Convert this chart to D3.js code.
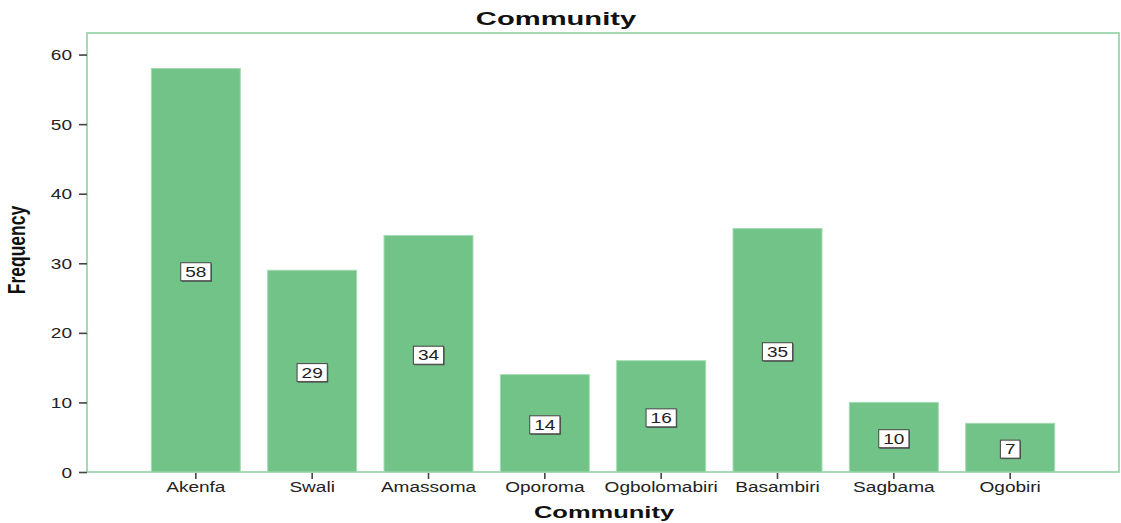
<!DOCTYPE html>
<html>
<head>
<meta charset="utf-8">
<script src="https://cdn.jsdelivr.net/npm/d3@7"></script>
<style>
  html, body { margin: 0; padding: 0; background: #fff; }
  svg text { font-family: Arial, "Liberation Sans", sans-serif; }
</style>
</head>
<body>
<svg id="chart" width="1121" height="523"></svg>
<script>
// Frequency of respondents by community
const communities = ["Akenfa", "Swali", "Amassoma", "Oporoma", "Ogbolomabiri", "Basambiri", "Sagbama", "Ogobiri"];
const frequencies = [58, 29, 34, 14, 16, 35, 10, 7];
const yTickValues = [0, 10, 20, 30, 40, 50, 60];

const W = 1121, H = 523;
const frame = { left: 87, right: 1119, top: 33, bottom: 472 };
const SX = 1.36; // horizontal stretch applied to all lettering

const svg = d3.select("#chart");

const x = d3.scaleBand()
  .domain(communities)
  .range([frame.left, frame.right])
  .paddingInner(0.235)
  .paddingOuter(0.553);

const y = d3.scaleLinear()
  .domain([0, 63.1])
  .range([frame.bottom, frame.top]);

// plot frame
svg.append("rect")
  .attr("x", frame.left).attr("y", frame.top)
  .attr("width", frame.right - frame.left)
  .attr("height", frame.bottom - frame.top)
  .attr("fill", "#fff")
  .attr("stroke", "#8fd3a2")
  .attr("stroke-width", 1.6);

// bars
svg.append("g").selectAll("rect")
  .data(frequencies)
  .join("rect")
  .attr("x", (d, i) => x(communities[i]))
  .attr("y", d => y(d))
  .attr("width", x.bandwidth())
  .attr("height", d => y(0) - y(d))
  .attr("fill", "#72c388")
  .attr("stroke", "#a6dbb4")
  .attr("stroke-width", 1);

// y axis
const yAxis = svg.append("g")
  .attr("transform", `translate(${frame.left},0)`)
  .call(d3.axisLeft(y).tickValues(yTickValues).tickSize(8).tickFormat(d3.format("d")));
yAxis.select(".domain").remove();
yAxis.selectAll(".tick line").attr("stroke", "#444").attr("stroke-width", 1.6);
yAxis.selectAll(".tick text")
  .attr("x", 0).attr("dy", "0.36em")
  .attr("transform", `translate(-15,0) scale(${SX},1)`)
  .attr("text-anchor", "end")
  .attr("font-size", 14)
  .attr("fill", "#222");

// x axis
const xAxis = svg.append("g")
  .attr("transform", `translate(0,${frame.bottom})`)
  .call(d3.axisBottom(x).tickSize(7).tickSizeOuter(0));
xAxis.select(".domain").remove();
xAxis.selectAll(".tick line").attr("stroke", "#444").attr("stroke-width", 1.6).attr("y1", 1);
xAxis.selectAll(".tick text")
  .attr("y", 0).attr("dy", 0)
  .attr("transform", `translate(0,20) scale(${SX},1)`)
  .attr("font-size", 14)
  .attr("fill", "#222");

// value labels in boxes at half bar height
const labels = svg.append("g").selectAll("g")
  .data(frequencies)
  .join("g")
  .attr("transform", (d, i) => `translate(${x(communities[i]) + x.bandwidth() / 2},${y(d / 2) + 1.5})`);

labels.each(function (d) {
  const g = d3.select(this);
  const t = g.append("text")
    .attr("text-anchor", "middle")
    .attr("dy", "0.36em")
    .attr("transform", `scale(${SX},1)`)
    .attr("font-size", 14)
    .attr("fill", "#222")
    .text(d);
  const tw = t.node().getComputedTextLength() * SX;
  const bw = tw + 9, bh = 18;
  g.insert("rect", "text")
    .attr("x", -bw / 2 + 1).attr("y", -bh / 2 + 1)
    .attr("width", bw).attr("height", bh)
    .attr("fill", "#555");
  g.insert("rect", "text")
    .attr("x", -bw / 2).attr("y", -bh / 2)
    .attr("width", bw).attr("height", bh)
    .attr("fill", "#fff")
    .attr("stroke", "#444")
    .attr("stroke-width", 1);
});

// chart title
svg.append("text")
  .attr("transform", `translate(556,25) scale(1.62,1)`)
  .attr("text-anchor", "middle")
  .attr("font-size", 18)
  .attr("font-weight", "bold")
  .attr("fill", "#111")
  .text("Community");

// x axis title
svg.append("text")
  .attr("transform", `translate(604,518) scale(1.5,1)`)
  .attr("text-anchor", "middle")
  .attr("font-size", 17)
  .attr("font-weight", "bold")
  .attr("fill", "#111")
  .text("Community");

// y axis title
svg.append("text")
  .attr("transform", `translate(25,250) scale(${SX},1) rotate(-90)`)
  .attr("text-anchor", "middle")
  .attr("font-size", 17.5)
  .attr("font-weight", "bold")
  .attr("fill", "#111")
  .text("Frequency");
</script>
</body>
</html>
